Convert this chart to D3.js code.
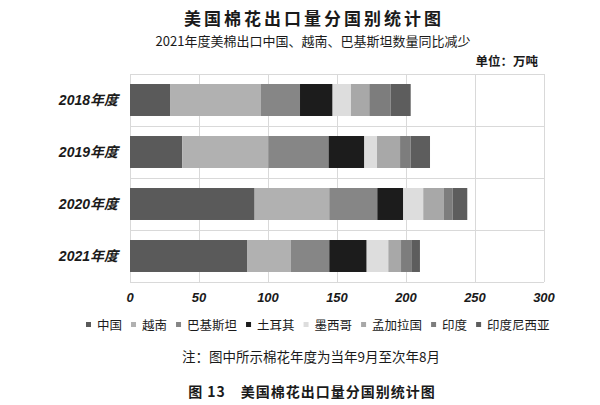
<!DOCTYPE html><head><meta charset="utf-8">
<title>美国棉花出口量分国别统计图</title>
<style type="text/css">
body { margin: 0; background: #ffffff; }
svg text { font-family: "Noto Sans CJK SC", "Liberation Sans", sans-serif; fill: #1a1a1a; }
text.tick { font-family: "Liberation Sans", "Noto Sans CJK SC", sans-serif; font-weight: bold; font-style: italic; }
</style>
<script type="text/javascript" src="https://cdn.jsdelivr.net/npm/d3@7"></script>
</head><body>
<svg id="chart" width="600" height="405"></svg>
<script type="text/javascript">

// values (万吨)
var years = ["2018年度", "2019年度", "2020年度", "2021年度"];
var countries = ["中国", "越南", "巴基斯坦", "土耳其", "墨西哥", "孟加拉国", "印度", "印度尼西亚"];
var china      = [29.0, 37.9, 90.3, 84.8];
var vietnam    = [65.9, 62.3, 54.1, 31.6];
var pakistan   = [28.3, 43.7, 34.8, 28.0];
var turkey     = [23.6, 25.9, 18.8, 27.1];
var mexico     = [13.3, 9.2, 14.5, 15.7];
var bangladesh = [13.3, 16.7, 15.0, 9.2];
var india      = [15.5, 7.7, 6.3, 7.9];
var indonesia  = [14.5, 14.0, 10.6, 5.8];
var xTicks = [0, 50, 100, 150, 200, 250, 300];
var colors = ["#5a5a5a", "#b1b1b1", "#868686", "#1c1c1c", "#dddddd", "#a8a8a8", "#7d7d7d", "#5d5d5d"];

var series = [china, vietnam, pakistan, turkey, mexico, bangladesh, india, indonesia];
var table = years.map(function(y, i) {
	var row = { year: y };
	countries.forEach(function(c, k) { row[c] = series[k][i]; });
	return row;
});

var svg = d3.select("#chart");
var plot = { left: 130, right: 544, top: 74, bottom: 282 };

var x = d3.scaleLinear().domain([0, 300]).range([plot.left, plot.right]);
var y = d3.scaleBand().domain(years).range([plot.top, plot.bottom])
	.paddingInner(0.385).paddingOuter(0.1925);

// grid
var grid = svg.append("g").attr("stroke", "#d9d9d9").attr("stroke-width", 1).attr("fill", "none");
grid.selectAll("line.v").data(xTicks).join("line").attr("class", "v")
	.attr("x1", function(d) { return x(d) + 0.5; }).attr("x2", function(d) { return x(d) + 0.5; })
	.attr("y1", plot.top).attr("y2", plot.bottom);
var bounds = years.map(function(d) { return y(d) - y.step() * y.paddingInner() / 2; });
bounds.push(plot.bottom);
grid.selectAll("line.h").data(bounds).join("line").attr("class", "h")
	.attr("x1", plot.left).attr("x2", plot.right)
	.attr("y1", function(d) { return Math.round(d) + 0.5; }).attr("y2", function(d) { return Math.round(d) + 0.5; });

// bars
var stack = d3.stack().keys(countries)(table);
svg.append("g").selectAll("g").data(stack).join("g")
	.attr("fill", function(d, i) { return colors[i]; })
	.selectAll("rect").data(function(d) { return d; }).join("rect")
	.attr("x", function(d) { return x(d[0]); })
	.attr("width", function(d) { return x(d[1]) - x(d[0]); })
	.attr("y", function(d) { return y(d.data.year); })
	.attr("height", y.bandwidth());

// axes labels
svg.append("g").selectAll("text").data(xTicks).join("text").attr("class", "tick")
	.attr("x", function(d) { return x(d); }).attr("y", 302)
	.attr("text-anchor", "middle").style("font-size", "13px")
	.text(function(d) { return d; });
svg.append("g").selectAll("text").data(years).join("text").attr("class", "tick")
	.attr("x", 118).attr("y", function(d) { return y(d) + y.bandwidth() / 2 + 5; })
	.attr("text-anchor", "end").style("font-size", "14px")
	.text(function(d) { return d; });

// titles
svg.append("text").attr("x", 314).attr("y", 25).attr("text-anchor", "middle")
	.style("font-size", "17px").style("font-weight", "bold").style("letter-spacing", "3px")
	.text("美国棉花出口量分国别统计图");
svg.append("text").attr("x", 313).attr("y", 46).attr("text-anchor", "middle")
	.style("font-size", "13px")
	.text("2021年度美棉出口中国、越南、巴基斯坦数量同比减少");
svg.append("text").attr("x", 538).attr("y", 66).attr("text-anchor", "end")
	.style("font-size", "12.5px").style("font-weight", "bold")
	.text("单位：万吨");

// legend
var lx = 86;
var legend = svg.append("g");
countries.forEach(function(c, i) {
	legend.append("rect").attr("x", lx).attr("y", 322).attr("width", 5).attr("height", 5).attr("fill", colors[i]);
	var t = legend.append("text").attr("x", lx + 11).attr("y", 330)
		.style("font-size", "12.5px").text(c);
	lx += 11 + t.node().getComputedTextLength() + 9;
});

// notes
svg.append("text").attr("x", 311).attr("y", 362).attr("text-anchor", "middle")
	.style("font-size", "13.5px")
	.text("注：图中所示棉花年度为当年9月至次年8月");
svg.append("text").attr("x", 312).attr("y", 397).attr("text-anchor", "middle")
	.style("font-size", "14px").style("font-weight", "bold").style("letter-spacing", "1px")
	.text("图 13　美国棉花出口量分国别统计图");

</script>
</body></html>
